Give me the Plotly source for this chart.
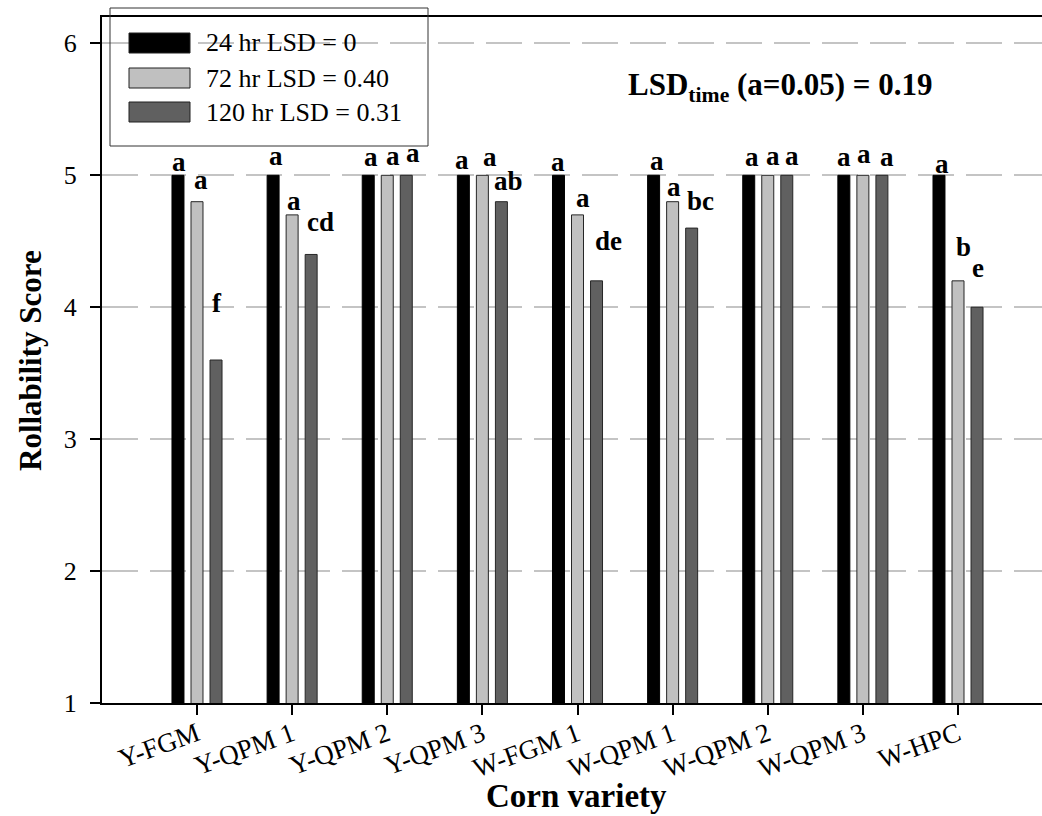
import plotly.graph_objects as go

# ---- data ----
varieties = ["Y-FGM", "Y-QPM 1", "Y-QPM 2", "Y-QPM 3", "W-FGM 1",
             "W-QPM 1", "W-QPM 2", "W-QPM 3", "W-HPC"]
series_names = ["24 hr LSD = 0", "72 hr LSD = 0.40", "120 hr LSD = 0.31"]
hr24 = [5.0, 5.0, 5.0, 5.0, 5.0, 5.0, 5.0, 5.0, 5.0]
hr72 = [4.8, 4.7, 5.0, 5.0, 4.7, 4.8, 5.0, 5.0, 4.2]
hr120 = [3.6, 4.4, 5.0, 4.8, 4.2, 4.6, 5.0, 5.0, 4.0]
letters24 = ["a", "a", "a", "a", "a", "a", "a", "a", "a"]
letters72 = ["a", "a", "a", "a", "a", "a", "a", "a", "b"]
letters120 = ["f", "cd", "a", "ab", "de", "bc", "a", "a", "e"]
lsd_time_text = "LSD<sub>time</sub> (a=0.05) = 0.19"
y_ticks = [1, 2, 3, 4, 5, 6]

# ---- styles ----
FONT = "Liberation Serif, Times New Roman, serif"
colors = ["#000000", "#c0c0c0", "#606060"]
line_colors = ["#000000", "#262626", "#262626"]
# label nudges in pixels: (xshift from category centre, yshift above bar top)
nudge24 = [(-18, 13), (-16, 19), (-16, 18), (-20, 15), (-20, 13),
           (-16, 14), (-16, 18), (-19, 18), (-16, 11)]
nudge72 = [(4, 22), (2, 14), (6, 19), (8, 18), (5, 17),
           (1, 15), (5, 19), (1, 21), (5, 34)]
nudge120 = [(20, 57), (28, 32), (26, 22), (26, 21), (31, 40),
            (28, 27), (24, 19), (24, 18), (20, 39)]

values = [hr24, hr72, hr120]
letters = [letters24, letters72, letters120]
nudges = [nudge24, nudge72, nudge120]

fig = go.Figure()
for name, vals, col, lc in zip(series_names, values, colors, line_colors):
    fig.add_trace(go.Bar(
        x=varieties, y=vals, name=name,
        marker=dict(color=col, line=dict(color=lc, width=1)),
        showlegend=False,
    ))

annotations = []
for vals, labs, nud in zip(values, letters, nudges):
    for cat, v, lab, (dx, dy) in zip(varieties, vals, labs, nud):
        annotations.append(dict(
            x=cat, y=v, xref="x", yref="y", text=f"<b>{lab}</b>",
            showarrow=False, xanchor="center", yanchor="middle",
            xshift=dx, yshift=dy,
            font=dict(family=FONT, size=27, color="black"),
        ))

# plot area geometry (pixels) for paper-coordinate helpers
L, T, W, H = 102, 17, 940, 686
def px(x):
    return (x - L) / W
def py(y):
    return (T + H - y) / H

annotations.append(dict(
    x=px(780), y=py(87), xref="paper", yref="paper", text=f"<b>{lsd_time_text}</b>",
    showarrow=False, xanchor="center", yanchor="middle",
    font=dict(family=FONT, size=31, color="black"),
))
annotations.append(dict(
    x=px(30), y=py(361), xref="paper", yref="paper", text="<b>Rollability Score</b>",
    showarrow=False, xanchor="center", yanchor="middle", textangle=-90,
    font=dict(family=FONT, size=31, color="black"),
))
annotations.append(dict(
    x=px(576), y=py(796), xref="paper", yref="paper", text="<b>Corn variety</b>",
    showarrow=False, xanchor="center", yanchor="middle",
    font=dict(family=FONT, size=33, color="black"),
))

# manual legend
shapes = [dict(type="rect", xref="paper", yref="paper",
               x0=px(110), x1=px(428), y0=py(146), y1=py(8),
               line=dict(color="#333333", width=1), fillcolor="rgba(0,0,0,0)",
               layer="above")]
row_centres = [43, 78, 112]
for name, col, yc in zip(series_names, colors, row_centres):
    shapes.append(dict(type="rect", xref="paper", yref="paper",
                       x0=px(129), x1=px(190), y0=py(yc + 10), y1=py(yc - 10),
                       line=dict(color="#202020", width=1), fillcolor=col,
                       layer="above"))
    annotations.append(dict(
        x=px(204), y=py(yc), xref="paper", yref="paper", text=name,
        showarrow=False, xanchor="left", yanchor="middle",
        font=dict(family=FONT, size=26, color="black"),
    ))

fig.update_layout(
    width=1042, height=816,
    margin=dict(l=L, r=0, t=T, b=816 - T - H, pad=0, autoexpand=False),
    paper_bgcolor="white", plot_bgcolor="white",
    barmode="group", bargap=0.4, bargroupgap=0.37,
    font=dict(family=FONT, size=24, color="black"),
    annotations=annotations, shapes=shapes,
    showlegend=False,
)
fig.update_xaxes(
    range=[-0.9987, 8.883], showgrid=False,
    showline=True, linecolor="black", linewidth=2, mirror=True,
    ticks="outside", ticklen=10, tickwidth=2, tickcolor="black",
    tickangle=-20, tickfont=dict(family=FONT, size=27, color="black"),
)
try:
    fig.update_xaxes(ticklabelstandoff=-7)
except Exception:
    pass
fig.update_yaxes(
    range=[1, 6.2], tickvals=y_ticks,
    showgrid=True, gridcolor="#c4c4c4", gridwidth=2, griddash="36px,12px",
    showline=True, linecolor="black", linewidth=2, zeroline=False,
    ticks="outside", ticklen=10, tickwidth=2, tickcolor="black",
    ticklabelstandoff=8,
    tickfont=dict(family=FONT, size=26, color="black"),
)

fig.write_html("out.html",
               config={"displayModeBar": False},
               post_script="document.body.style.margin='0';document.body.style.overflow='hidden';")
